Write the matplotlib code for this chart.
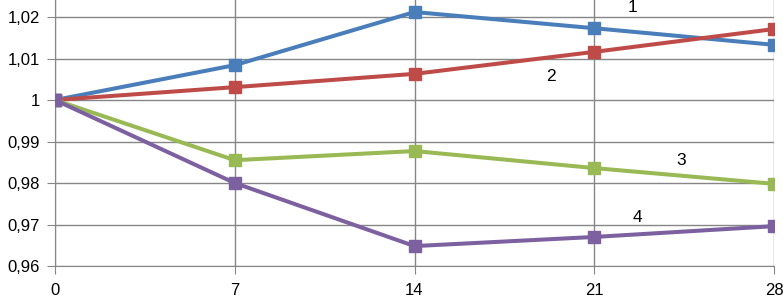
import numpy as np
import matplotlib.pyplot as plt
from matplotlib.ticker import FuncFormatter

days = [0, 7, 14, 21, 28]
series1 = [1.0, 1.0084, 1.0212, 1.0173, 1.0133]
series2 = [1.0, 1.0031, 1.0063, 1.0116, 1.0171]
series3 = [1.0, 0.9855, 0.9877, 0.9836, 0.9798]
series4 = [1.0, 0.9800, 0.9648, 0.9670, 0.9696]
labels = ["1", "2", "3", "4"]
colors = ["#4a7ebb", "#be4b48", "#98b954", "#7d60a0"]

plt.rcParams['font.family'] = ['Liberation Sans', 'DejaVu Sans']

fig = plt.figure(figsize=(7.83, 3.0), dpi=100)
ax = fig.add_axes([55 / 783, 34 / 300, 719 / 783, 266 / 300])

for ys, c in zip([series1, series2, series3, series4], colors):
    ax.plot(days, ys, color=c, lw=2.9, marker='s', ms=8.5, mec=c, mfc=c, zorder=3)

# series numbers placed next to the lines
label_pos = [(22.5, 1.0222), (19.3, 1.0056), (24.4, 0.9855), (22.7, 0.9718)]
for lab, (x, y) in zip(labels, label_pos):
    ax.text(x, y, lab, fontsize=12.5, ha='center', va='center')

ax.set_xlim(0, 28)
ax.set_ylim(0.96, 1.0241)
ax.set_xticks(days)
ax.set_yticks(np.arange(0.96, 1.021, 0.01))
ax.yaxis.set_major_formatter(FuncFormatter(lambda v, p: ('%g' % round(v, 2)).replace('.', ',')))
ax.grid(True, color='#868686', lw=1)
ax.set_axisbelow(True)
for s in ['top', 'right']:
    ax.spines[s].set_visible(False)
for s in ['left', 'bottom']:
    ax.spines[s].set_color('#868686')
ax.tick_params(axis='both', colors='#868686', labelcolor='black', labelsize=12, length=6)
ax.tick_params(axis='y', pad=5)
ax.tick_params(axis='x', pad=6)

fig.savefig('out.png', dpi=100)
